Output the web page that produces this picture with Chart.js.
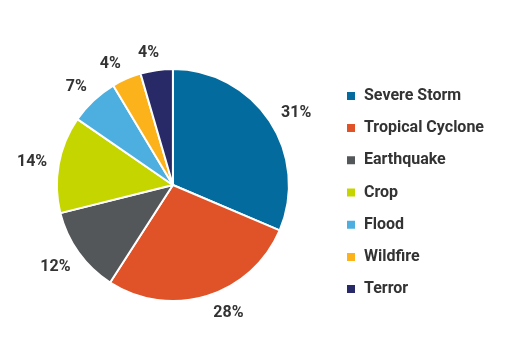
<!DOCTYPE html>
<html>
<head>
<meta charset="utf-8">
<script src="https://cdn.jsdelivr.net/npm/chart.js@4/dist/chart.umd.min.js"></script>
<style>
  html, body { margin: 0; padding: 0; background: #ffffff; }
  #wrap { width: 511px; height: 356px; position: relative; }
</style>
</head>
<body>
<div id="wrap"><canvas id="c" width="511" height="356"></canvas></div>
<script>
const categories = ['Severe Storm', 'Tropical Cyclone', 'Earthquake', 'Crop', 'Flood', 'Wildfire', 'Terror'];
const shares = [31.4, 27.7, 12.0, 13.5, 6.8, 4.1, 4.5];
const shareLabels = ['31%', '28%', '12%', '14%', '7%', '4%', '4%'];
const colors = ['#036b9d', '#e05227', '#53575a', '#c5d500', '#4daee0', '#fcb21b', '#272a66'];

const pctLabels = {
  id: 'pctLabels',
  afterDatasetsDraw(chart, args, opts) {
    const ctx = chart.ctx;
    const meta = chart.getDatasetMeta(0);
    const nudge = opts.angleNudgeDeg || [];
    ctx.save();
    ctx.font = 'bold 16px Roboto';
    ctx.fillStyle = '#333333';
    ctx.textAlign = 'center';
    ctx.textBaseline = 'middle';
    meta.data.forEach((arc, i) => {
      const p = arc.getProps(['x', 'y', 'startAngle', 'endAngle', 'outerRadius'], true);
      const mid = (p.startAngle + p.endAngle) / 2 + (nudge[i] || 0) * Math.PI / 180;
      const txt = shareLabels[i];
      const w = ctx.measureText(txt).width;
      const h = 12;
      const dx = Math.cos(mid), dy = Math.sin(mid);
      const ext = Math.abs(dx) * w / 2 + Math.abs(dy) * h / 2;
      const r = p.outerRadius + 11 + ext;
      ctx.fillText(txt, p.x + dx * r, p.y + dy * r + 1);
    });
    ctx.restore();
  }
};

new Chart(document.getElementById('c'), {
  type: 'pie',
  data: {
    labels: categories,
    datasets: [{
      data: shares,
      backgroundColor: colors,
      borderColor: '#ffffff',
      borderWidth: 2,
      radius: 116
    }]
  },
  options: {
    responsive: false,
    animation: false,
    layout: { padding: { left: 16, right: 17, top: 14, bottom: 0 } },
    plugins: {
      tooltip: { enabled: false },
      pctLabels: { angleNudgeDeg: [3, -6.5, 1, -0.5, -1, -3.6, -2.3] },
      legend: {
        position: 'right',
        align: 'center',
        title: { display: true, text: '', padding: 0, font: { size: 10, lineHeight: 1.5 } },
        labels: {
          boxWidth: 10,
          boxHeight: 10,
          padding: 16.2,
          color: '#333333',
          font: { family: 'Roboto', size: 16, weight: 'bold' }
        }
      }
    }
  },
  plugins: [pctLabels]
});
</script>
</body>
</html>
